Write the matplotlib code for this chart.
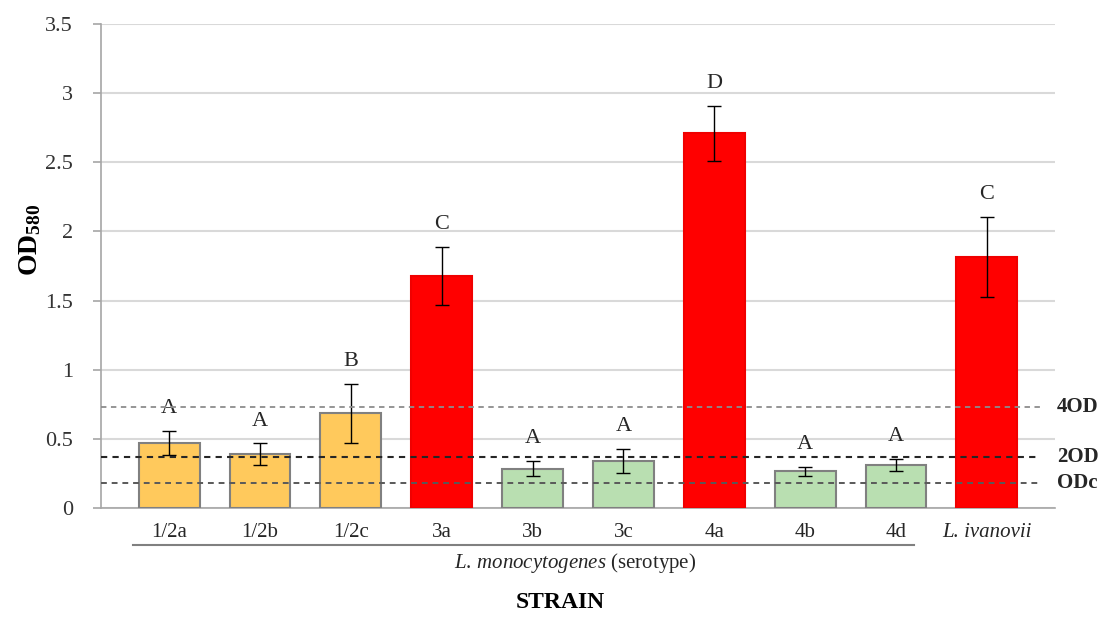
import numpy as np
import matplotlib
matplotlib.use("Agg")
import matplotlib.pyplot as plt
import matplotlib.transforms as mtransforms

plt.rcParams['font.family'] = ['Liberation Serif', 'DejaVu Serif']
plt.rcParams['mathtext.fontset'] = 'custom'
plt.rcParams['mathtext.rm'] = 'Liberation Serif'
plt.rcParams['mathtext.it'] = 'Liberation Serif:italic'
plt.rcParams['mathtext.bf'] = 'Liberation Serif:bold'

strains = ['1/2a', '1/2b', '1/2c', '3a', '3b', '3c', '4a', '4b', '4d', 'L. ivanovii']
od_mean = [0.47, 0.39, 0.685, 1.68, 0.285, 0.34, 2.71, 0.265, 0.31, 1.815]
od_err = [0.09, 0.08, 0.215, 0.21, 0.055, 0.09, 0.2, 0.035, 0.045, 0.29]
letters = ['A', 'A', 'B', 'C', 'A', 'A', 'D', 'A', 'A', 'C']
groups = ['weak', 'weak', 'weak', 'strong', 'none', 'none', 'strong', 'none', 'none', 'strong']
odc = 0.183

colors = {'weak': '#ffc95c', 'strong': '#ff0000', 'none': '#b9dfb1'}
edges = {'weak': '#808080', 'strong': '#f00000', 'none': '#808080'}

fig = plt.figure(figsize=(11.01, 6.26), dpi=100)
ax = fig.add_axes([0.0917, 0.1885, 0.8665, 0.7732])

x = np.arange(len(strains))
ax.bar(x, od_mean, width=0.67, color=[colors[g] for g in groups],
       edgecolor=[edges[g] for g in groups], linewidth=1.5, zorder=3)
ax.errorbar(x, od_mean, yerr=od_err, fmt='none', ecolor='black', elinewidth=1,
            capsize=5, capthick=1, zorder=4)

for xi, m, e, l in zip(x, od_mean, od_err, letters):
    ax.annotate(l, (xi, m + e), xytext=(0, 9), textcoords='offset points',
                ha='center', va='bottom', fontsize=16, color='#262626')

ax.set_xlim(-0.75, 9.75)
ax.set_ylim(0, 3.5)
ax.set_yticks(np.arange(0, 3.51, 0.5))
ax.set_yticklabels(['0', '0.5', '1', '1.5', '2', '2.5', '3', '3.5'], fontsize=16, color='#333333')
ax.yaxis.grid(True, color='#d9d9d9', linewidth=1.5, zorder=0)
ax.set_axisbelow(True)
ax.tick_params(axis='y', length=6, color='#a6a6a6', width=1.2, pad=14)
ax.set_xticks([])
for s in ['top', 'right']:
    ax.spines[s].set_visible(False)
ax.spines['left'].set_color('#a6a6a6')
ax.spines['bottom'].set_color('#a6a6a6')
ax.spines['left'].set_linewidth(1.2)
ax.spines['bottom'].set_linewidth(1.2)

# cut-off lines
ax.hlines(4 * odc, -0.75, 9.58, colors='#8c8c8c', linestyles=(0, (3, 2.5)), linewidth=1.3, zorder=5)
ax.hlines(2 * odc, -0.75, 9.58, colors='#262626', linestyles=(0, (3, 2.5)), linewidth=1.5, zorder=5)
ax.hlines(odc, -0.75, 9.58, colors='#595959', linestyles=(0, (3, 2.5)), linewidth=1.4, zorder=5)
trans = mtransforms.blended_transform_factory(ax.transAxes, ax.transData)
for val, lab in [(4 * odc, '4OD'), (2 * odc, '2OD'), (odc, 'ODc')]:
    ax.text(1.002, val, lab, transform=trans, ha='left', va='center',
            fontsize=15, fontweight='bold', color='#262626')

# category labels
lab_trans = mtransforms.blended_transform_factory(ax.transData, ax.transAxes)
for xi, s in zip(x, strains):
    ax.text(xi, -0.03, s, transform=lab_trans, ha='center', va='top', fontsize=15,
            color='#262626', style='italic' if s.startswith('L.') else 'normal')

ax.plot([-0.4, 8.2], [-0.077, -0.077], transform=lab_trans, color='#808080',
        linewidth=1.5, clip_on=False)
fig.text(0.522, 0.1, r'$\it{L.\,monocytogenes}$ (serotype)', ha='center', va='center',
         fontsize=15, color='#262626')

fig.text(0.027, 0.617, r'$\mathbf{OD_{580}}$', rotation=90, ha='center', va='center',
         fontsize=20, color='black')
fig.text(0.509, 0.037, 'STRAIN', ha='center', va='center', fontsize=17,
         fontweight='bold', color='black')

fig.savefig('out.png', dpi=100)
